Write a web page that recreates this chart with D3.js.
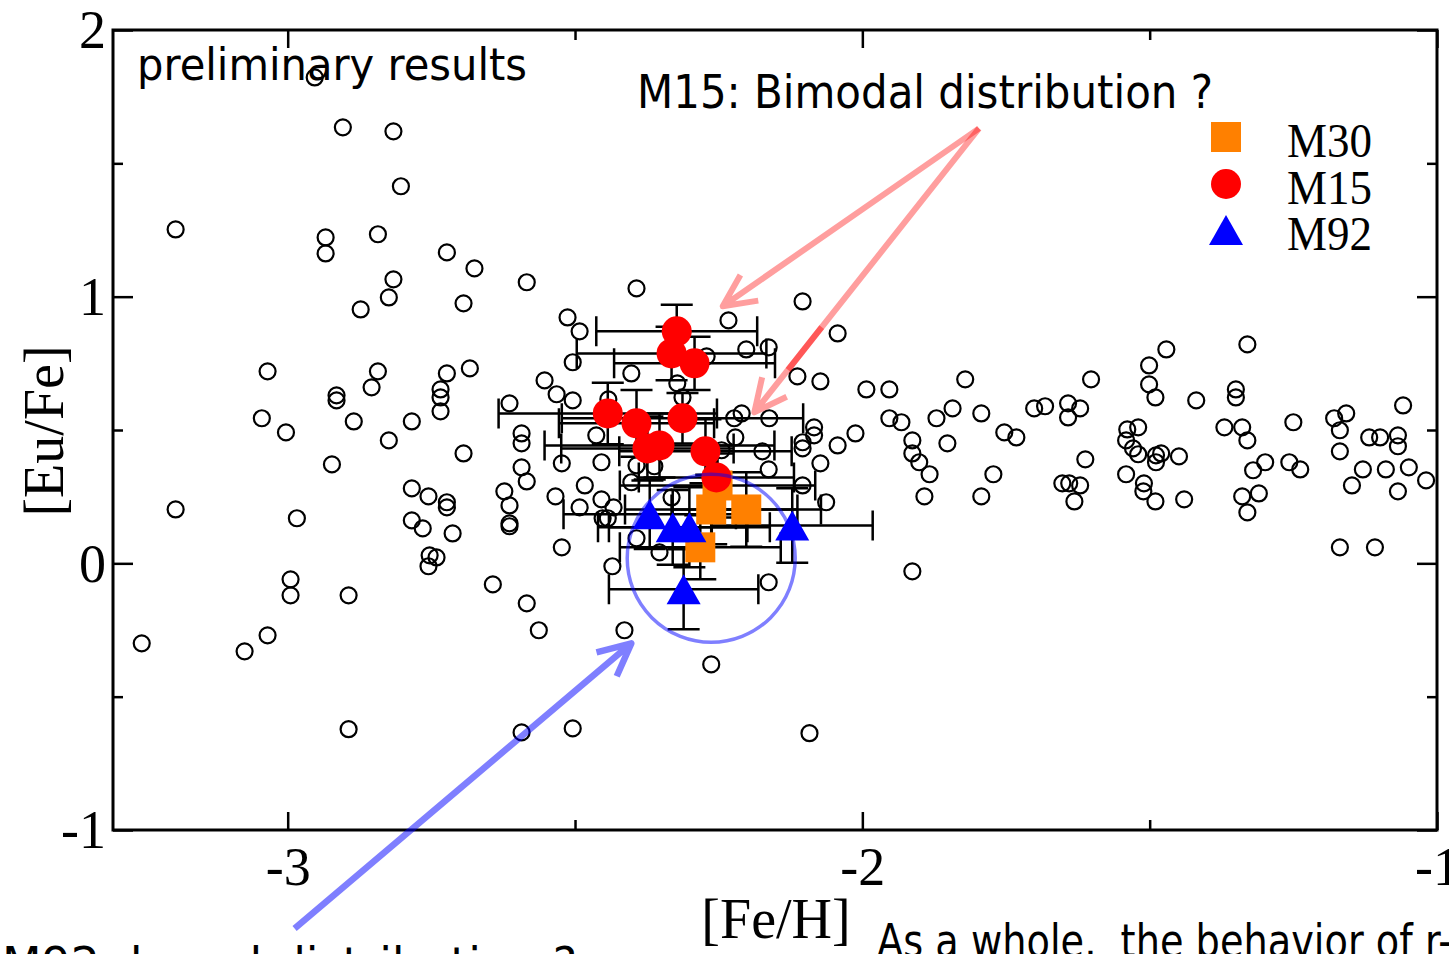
<!DOCTYPE html>
<html>
<head>
<meta charset="utf-8">
<script src="https://cdn.jsdelivr.net/npm/d3@7"></script>
<style>
  html, body { margin: 0; padding: 0; background: #fff; overflow: hidden; }
  svg { display: block; }
</style>
</head>
<body>
<svg id="chart" width="1449" height="954"></svg>
<script>
// ---- Axis ticks -------------------------------------------------------
const xMajorTicks = [-3, -2, -1];
const xMinorTicks = [-2.5, -1.5];
const yMajorTicks = [-1, 0, 1, 2];
const yMinorTicks = [-0.5, 0.5, 1.5];

// ---- Field halo stars: [Fe/H] and [Eu/Fe] ------------------------------
const fieldFeH = [
  -3.254,-3.195,-3.195,-3.075,-3.035,-3.035,-3.045,-3.003,-2.984,-2.995,
  -2.995,-2.953,-2.934,-2.934,-2.904,-2.816,-2.803,-2.843,-2.816,-2.824,
  -2.873,-2.723,-2.675,-2.694,-2.843,-2.854,-2.915,-2.915,-2.723,-2.683,
  -2.734,-2.734,-2.734,-2.885,-2.784,-2.824,-2.694,-2.923,-2.784,-2.755,
  -2.723,-2.723,-2.784,-2.765,-2.713,-2.753,-2.741,-2.755,-2.894,-2.894,
  -2.584,-2.393,-2.104,-2.513,-2.492,-2.233,-2.043,-2.504,-2.402,-2.202,
  -2.163,-2.271,-2.322,-2.313,-2.113,-2.073,-2.553,-2.532,-2.504,-2.442,
  -2.614,-1.993,-1.953,-2.210,-2.223,-2.162,-2.084,-2.084,-1.953,-1.932,
  -2.593,-2.593,-2.463,-2.221,-2.104,-2.104,-2.012,-2.043,-2.174,-2.245,
  -2.523,-2.454,-2.393,-2.362,-2.593,-2.584,-2.073,-2.163,-2.483,-2.402,
  -2.104,-2.623,-2.614,-2.614,-2.614,-2.534,-2.492,-2.454,-2.433,-2.452,
  -2.443,-2.063,-2.332,-2.523,-2.393,-2.353,-2.435,-2.643,-2.584,-2.563,
  -2.414,-2.163,-2.263,-2.593,-2.504,-2.092,
  -1.913,-1.913,-1.901,-1.883,-1.892,-1.913,-1.871,-1.843,-1.852,-1.821,
  -1.793,-1.772,-1.793,-1.753,-1.732,-1.701,-1.682,-1.642,-1.642,-1.621,
  -1.602,-1.612,-1.652,-1.640,-1.621,-1.631,-1.501,-1.501,-1.490,-1.471,
  -1.419,-1.539,-1.520,-1.541,-1.529,-1.520,-1.489,-1.480,-1.489,-1.449,
  -1.541,-1.510,-1.511,-1.490,-1.440,-1.330,-1.350,-1.350,-1.370,-1.339,
  -1.330,-1.250,-1.299,-1.320,-1.257,-1.238,-1.339,-1.310,-1.330,-1.179,
  -1.158,-1.169,-1.169,-1.148,-1.129,-1.059,-1.118,-1.099,-1.068,-1.068,
  -1.089,-1.049,-1.068,-1.019,-1.169,-1.108
];
const fieldEuFe = [
  -0.300, 1.252, 0.202,-0.330,-0.270, 0.720, 0.544, 0.491, 0.169,-0.060,
  -0.120, 1.822, 1.222, 1.162, 1.635, 1.620, 1.414, 1.234, 1.065, 0.997,
   0.952, 1.166, 1.106, 0.975, 0.720, 0.660, 0.630, 0.611, 0.712, 0.731,
   0.652, 0.622, 0.570, 0.532, 0.532, 0.461, 0.412, 0.371, 0.281, 0.251,
   0.229, 0.210, 0.161, 0.131, 0.112, 0.030, 0.022,-0.011,-0.120,-0.622,
   1.054, 1.031, 0.982, 0.922, 0.870, 0.911, 0.862, 0.754, 0.712, 0.802,
   0.810, 0.776, 0.675, 0.622, 0.701, 0.682, 0.686, 0.634, 0.611, 0.615,
   0.600, 0.652, 0.652, 0.562, 0.544, 0.544, 0.510, 0.480, 0.544, 0.529,
   0.487, 0.450, 0.480, 0.472, 0.454, 0.431, 0.487, 0.442, 0.420, 0.424,
   0.375, 0.379, 0.367, 0.364, 0.360, 0.307, 0.375, 0.352, 0.292, 0.304,
   0.292, 0.270, 0.217, 0.150, 0.139, 0.251, 0.210, 0.240, 0.210, 0.169,
   0.169, 0.229, 0.247, 0.060, 0.094, 0.041,-0.011,-0.079,-0.150,-0.251,
  -0.251,-0.071,-0.379,-0.634,-0.619,-0.637,
   0.461, 0.412, 0.379, 0.334, 0.251,-0.030, 0.544, 0.581, 0.450, 0.690,
   0.562, 0.334, 0.251, 0.491, 0.472, 0.581, 0.589, 0.600, 0.547, 0.581,
   0.690, 0.390, 0.300, 0.300, 0.292, 0.232, 0.742, 0.671, 0.622, 0.802,
   0.611, 0.502, 0.510, 0.461, 0.431, 0.409, 0.405, 0.412, 0.379, 0.401,
   0.334, 0.300, 0.270, 0.232, 0.240, 0.821, 0.652, 0.622, 0.510, 0.510,
   0.461, 0.529, 0.379, 0.349, 0.379, 0.352, 0.251, 0.262, 0.191, 0.544,
   0.562, 0.499, 0.420, 0.292, 0.352, 0.592, 0.472, 0.472, 0.480, 0.439,
   0.352, 0.360, 0.270, 0.311, 0.060, 0.060
];

// ---- Globular cluster giants with errors ------------------------------
const m30FeH    = [-2.252, -2.263, -2.202, -2.282];
const m30EuFe   = [ 0.292,  0.202,  0.202,  0.060];
const m30ErrFeH = [ 0.17,   0.15,   0.13,   0.14];
const m30ErrEuFe= [ 0.12,   0.13,   0.14,   0.12];

const m15FeH    = [-2.323, -2.332, -2.292, -2.443, -2.393, -2.313, -2.374, -2.353, -2.273, -2.254];
const m15EuFe   = [ 0.870,  0.787,  0.750,  0.562,  0.525,  0.544,  0.431,  0.442,  0.420,  0.322];
const m15ErrFeH = [ 0.14,   0.165,  0.14,   0.19,   0.135,  0.21,   0.15,   0.20,   0.15,   0.135];
const m15ErrEuFe= [ 0.10,   0.10,   0.10,   0.115,  0.125,  0.095,  0.12,   0.12,   0.12,   0.12];

const m92FeH    = [-2.370, -2.330, -2.301, -2.122, -2.311];
const m92EuFe   = [ 0.184,  0.135,  0.135,  0.142, -0.097];
const m92ErrFeH = [ 0.15,   0.13,   0.14,   0.14,   0.13];
const m92ErrEuFe= [ 0.13,   0.14,   0.15,   0.14,   0.15];

const legendLabels = ["M30", "M15", "M92"];

// ---- Annotation anchors (data units) -----------------------------------
const noteBimodalFrom = [-1.797, 1.631];
const noteBimodalTips = [[-2.243, 0.964], [-2.188, 0.566]];
const noteM92From = [-2.988, -1.369];
const noteM92Tip  = [-2.402, -0.300];
const noteM92Ring = [-2.263, 0.019];

// ---- Scales -------------------------------------------------------------
const L = 113, R = 1437, T = 30, B = 830;
const x = d3.scaleLinear().domain([-3.304, -1]).range([L, R]);
const y = d3.scaleLinear().domain([-1, 2]).range([B, T]);

const svg = d3.select("#chart");
const serif = "'Liberation Serif', 'Times New Roman', serif";
const sans = "'DejaVu Sans', Verdana, sans-serif";

// ---- Frame and ticks ----------------------------------------------------
function styleAxis(g) {
  g.select(".domain").remove();
  g.selectAll(".tick line").attr("stroke", "#000").attr("stroke-width", 2.5);
  g.selectAll("text").attr("font-family", serif).attr("font-size", 54).attr("fill", "#000");
}
const fmt = d => String(d);

svg.append("g").attr("transform", `translate(0,${B})`)
  .call(d3.axisBottom(x).tickValues(xMajorTicks).tickSize(-18).tickSizeOuter(0).tickFormat(fmt))
  .call(styleAxis)
  .call(g => g.selectAll("text").attr("y", 55).attr("dy", 0));
svg.append("g").attr("transform", `translate(0,${B})`)
  .call(d3.axisBottom(x).tickValues(xMinorTicks).tickSize(-10).tickSizeOuter(0).tickFormat(""))
  .call(styleAxis);
svg.append("g").attr("transform", `translate(0,${T})`)
  .call(d3.axisTop(x).tickValues(xMajorTicks).tickSize(-18).tickSizeOuter(0).tickFormat(""))
  .call(styleAxis);
svg.append("g").attr("transform", `translate(0,${T})`)
  .call(d3.axisTop(x).tickValues(xMinorTicks).tickSize(-10).tickSizeOuter(0).tickFormat(""))
  .call(styleAxis);

svg.append("g").attr("transform", `translate(${L},0)`)
  .call(d3.axisLeft(y).tickValues(yMajorTicks).tickSize(-20).tickSizeOuter(0).tickFormat(fmt))
  .call(styleAxis)
  .call(g => g.selectAll("text").attr("x", -7).attr("dy", "0.33em"));
svg.append("g").attr("transform", `translate(${L},0)`)
  .call(d3.axisLeft(y).tickValues(yMinorTicks).tickSize(-10).tickSizeOuter(0).tickFormat(""))
  .call(styleAxis);
svg.append("g").attr("transform", `translate(${R},0)`)
  .call(d3.axisRight(y).tickValues(yMajorTicks).tickSize(-20).tickSizeOuter(0).tickFormat(""))
  .call(styleAxis);
svg.append("g").attr("transform", `translate(${R},0)`)
  .call(d3.axisRight(y).tickValues(yMinorTicks).tickSize(-10).tickSizeOuter(0).tickFormat(""))
  .call(styleAxis);

svg.append("rect")
  .attr("x", L).attr("y", T).attr("width", R - L).attr("height", B - T)
  .attr("fill", "none").attr("stroke", "#000").attr("stroke-width", 3);

// ---- Axis titles --------------------------------------------------------
svg.append("text")
  .attr("x", 776).attr("y", 938).attr("text-anchor", "middle")
  .attr("font-family", serif).attr("font-size", 56).text("[Fe/H]");
svg.append("text")
  .attr("transform", "translate(63,431) rotate(-90)").attr("text-anchor", "middle")
  .attr("font-family", serif).attr("font-size", 56).text("[Eu/Fe]");

// ---- Field stars --------------------------------------------------------
svg.append("g").selectAll("circle")
  .data(d3.range(fieldFeH.length))
  .join("circle")
  .attr("cx", i => x(fieldFeH[i]))
  .attr("cy", i => y(fieldEuFe[i]))
  .attr("r", 8)
  .attr("fill", "none")
  .attr("stroke", "#000")
  .attr("stroke-width", 2.2);

// ---- Error bars ---------------------------------------------------------
function errorBars(feh, eufe, ef, ee) {
  const g = svg.append("g").attr("stroke", "#000").attr("stroke-width", 2.5).attr("fill", "none");
  feh.forEach((v, i) => {
    const cx = x(v), cy = y(eufe[i]);
    const x0 = x(v - ef[i]), x1 = x(v + ef[i]);
    const y0 = y(eufe[i] - ee[i]), y1 = y(eufe[i] + ee[i]);
    g.append("path").attr("d",
      `M${x0},${cy}H${x1}M${x0},${cy - 15}V${cy + 15}M${x1},${cy - 15}V${cy + 15}` +
      `M${cx},${y0}V${y1}M${cx - 16},${y0}H${cx + 16}M${cx - 16},${y1}H${cx + 16}`);
  });
}
errorBars(m30FeH, m30EuFe, m30ErrFeH, m30ErrEuFe);
errorBars(m15FeH, m15EuFe, m15ErrFeH, m15ErrEuFe);
errorBars(m92FeH, m92EuFe, m92ErrFeH, m92ErrEuFe);

// ---- Cluster symbols ----------------------------------------------------
const ORANGE = "#ff8000", RED = "#ff0000", BLUE = "#0000ff";
const triPath = "M0,-15L17,15L-17,15Z";

svg.append("g").selectAll("rect")
  .data(d3.range(m30FeH.length)).join("rect")
  .attr("x", i => x(m30FeH[i]) - 15).attr("y", i => y(m30EuFe[i]) - 15)
  .attr("width", 30).attr("height", 30).attr("fill", ORANGE);

svg.append("g").selectAll("circle")
  .data(d3.range(m15FeH.length)).join("circle")
  .attr("cx", i => x(m15FeH[i])).attr("cy", i => y(m15EuFe[i]))
  .attr("r", 15).attr("fill", RED);

svg.append("g").selectAll("path")
  .data(d3.range(m92FeH.length)).join("path")
  .attr("transform", i => `translate(${x(m92FeH[i])},${y(m92EuFe[i])})`)
  .attr("d", triPath).attr("fill", BLUE);

// ---- Legend -------------------------------------------------------------
const legend = svg.append("g").attr("transform", "translate(1226,137)");
legend.append("rect").attr("x", -15).attr("y", -15).attr("width", 30).attr("height", 30).attr("fill", ORANGE);
legend.append("circle").attr("cx", 0).attr("cy", 47).attr("r", 15).attr("fill", RED);
legend.append("path").attr("transform", "translate(0,93)").attr("d", triPath).attr("fill", BLUE);
legend.selectAll("text").data(legendLabels).join("text")
  .attr("x", 61).attr("y", (d, i) => 20 + i * 46.5)
  .attr("font-family", serif).attr("font-size", 48)
  .attr("textLength", 85).attr("lengthAdjust", "spacingAndGlyphs")
  .text(d => d);

// ---- Notes --------------------------------------------------------------
svg.append("text").attr("x", 137).attr("y", 80)
  .attr("font-family", sans).attr("font-size", 45)
  .attr("textLength", 390).attr("lengthAdjust", "spacingAndGlyphs")
  .text("preliminary results");
svg.append("text").attr("x", 637).attr("y", 108)
  .attr("font-family", sans).attr("font-size", 46)
  .attr("textLength", 576).attr("lengthAdjust", "spacingAndGlyphs")
  .text("M15: Bimodal distribution ?");
svg.append("text").attr("x", 877).attr("y", 957)
  .attr("font-family", sans).attr("font-size", 46).style("white-space", "pre")
  .attr("textLength", 575).attr("lengthAdjust", "spacingAndGlyphs")
  .text("As a whole,  the behavior of r-");
svg.append("text").attr("x", 2).attr("y", 980)
  .attr("font-family", sans).attr("font-size", 46)
  .attr("textLength", 575).attr("lengthAdjust", "spacingAndGlyphs")
  .text("M92: broad distribution ?");

// ---- Annotation arrows --------------------------------------------------
function arrowPath(from, to) {
  const x0 = x(from[0]), y0 = y(from[1]), x1 = x(to[0]), y1 = y(to[1]);
  const a = Math.atan2(y0 - y1, x0 - x1), len = 36, spread = 0.45;
  const ax = x1 + len * Math.cos(a + spread), ay = y1 + len * Math.sin(a + spread);
  const bx = x1 + len * Math.cos(a - spread), by = y1 + len * Math.sin(a - spread);
  return `M${x0},${y0}L${x1},${y1}M${ax},${ay}L${x1},${y1}L${bx},${by}`;
}
const notes = svg.append("g").attr("fill", "none").attr("stroke-linejoin", "round");
noteBimodalTips.forEach(tip => {
  notes.append("path").attr("d", arrowPath(noteBimodalFrom, tip))
    .attr("stroke", "rgba(255,0,0,0.38)").attr("stroke-width", 6);
});
// a short stronger stroke along the second red arrow
{
  const t0 = 0.70, t1 = 0.85, tip = noteBimodalTips[1];
  const sx = x(noteBimodalFrom[0]), sy = y(noteBimodalFrom[1]);
  const ex = x(tip[0]), ey = y(tip[1]);
  notes.append("line")
    .attr("x1", sx + (ex - sx) * t0).attr("y1", sy + (ey - sy) * t0)
    .attr("x2", sx + (ex - sx) * t1).attr("y2", sy + (ey - sy) * t1)
    .attr("stroke", "rgba(255,0,0,0.45)").attr("stroke-width", 6);
}
notes.append("path").attr("d", arrowPath(noteM92From, noteM92Tip))
  .attr("stroke", "rgba(0,0,255,0.5)").attr("stroke-width", 6.5);
notes.append("circle")
  .attr("cx", x(noteM92Ring[0])).attr("cy", y(noteM92Ring[1])).attr("r", 84)
  .attr("stroke", "rgba(0,0,255,0.5)").attr("stroke-width", 3.5);
</script>
</body>
</html>
